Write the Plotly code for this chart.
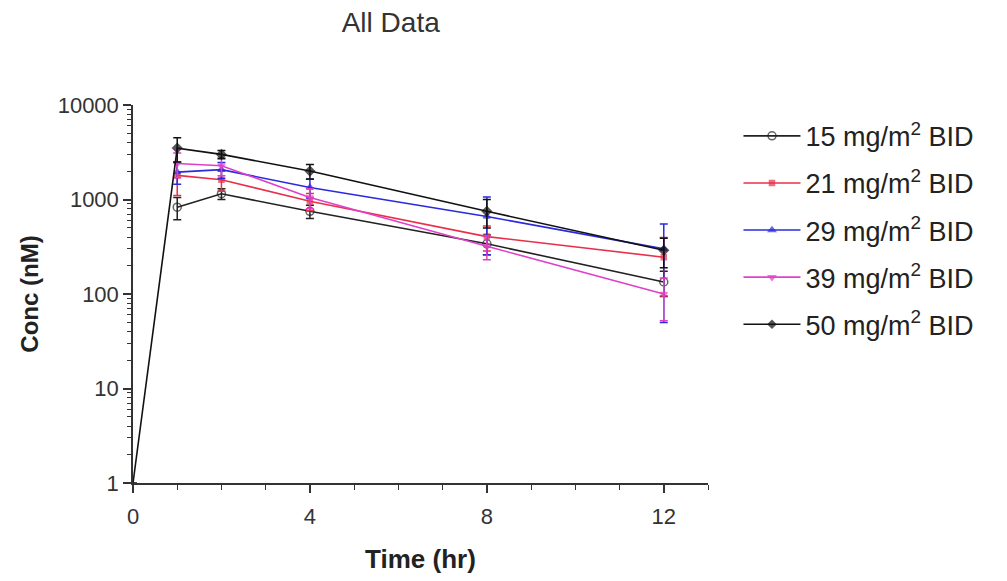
import plotly.graph_objects as go

# Sampling times (hr)
times = [0, 1, 2, 4, 8, 12]

# Dose groups
doses = ["15", "21", "29", "39", "50"]

# Mean concentration (nM) per dose group at each sampling time
conc_15 = [None, 830, 1150, 750, 340, 134]
conc_21 = [None, 1800, 1620, 960, 405, 245]
conc_29 = [None, 1950, 2070, 1340, 660, 300]
conc_39 = [None, 2400, 2280, 1050, 320, 100]
conc_50 = [1, 3500, 3000, 2000, 750, 290]

# Standard deviations (nM)
sd_15 = [0, 220, 150, 120, 80, 40]
sd_21 = [0, 700, 400, 200, 120, 150]
sd_29 = [0, 500, 400, 300, 400, 250]
sd_39 = [0, 700, 500, 250, 90, 48]
sd_50 = [0, 1000, 300, 350, 250, 100]

series = [
    (doses[0], conc_15, sd_15, "#222222", "circle-open", 8),
    (doses[1], conc_21, sd_21, "#e8304a", "square", 5),
    (doses[2], conc_29, sd_29, "#2a2ae0", "triangle-up", 6),
    (doses[3], conc_39, sd_39, "#e040c8", "triangle-down", 6),
    (doses[4], conc_50, sd_50, "#111111", "diamond", 7),
]

fig = go.Figure()
for dose, conc, sd, color, symbol, size in series:
    xs = [t for t, c in zip(times, conc) if c is not None]
    ys = [c for c in conc if c is not None]
    es = [e for e, c in zip(sd, conc) if c is not None]
    # the pre-dose point sits on the axis floor without a marker
    sizes = [0 if t == 0 else size for t in xs]
    fig.add_trace(go.Scatter(
        x=xs, y=ys,
        mode="lines+markers",
        name=f"{dose} mg/m<sup>2</sup> BID",
        legendgroup=dose,
        line=dict(color=color, width=1.6),
        marker=dict(symbol=symbol, size=sizes, color=color,
                    line=dict(color=color, width=1.5)),
        error_y=dict(type="data", array=es, visible=True,
                     color=color, thickness=1.5, width=4),
    ))

font_family = "Liberation Sans, Arial, sans-serif"

fig.update_layout(
    width=1007, height=581,
    paper_bgcolor="white", plot_bgcolor="white",
    margin=dict(l=133, r=299, t=105, b=96),
    font=dict(family=font_family, color="#222222"),
    title=dict(text="All Data", x=0.388, xref="container", xanchor="center",
               y=0.962, yref="container", yanchor="middle",
               font=dict(size=28, color="#333333", family=font_family)),
    legend=dict(x=1.053, y=0.982, xanchor="left", yanchor="top",
                font=dict(size=27, color="#222222"),
                bgcolor="rgba(0,0,0,0)", itemwidth=57,
                tracegroupgap=9),
    showlegend=True,
)

fig.update_xaxes(
    range=[0, 13], tickmode="array", tickvals=[0, 4, 8, 12],
    ticktext=["0", "4", "8", "12"],
    ticks="outside", ticklen=8, tickwidth=1.5, tickcolor="#333333",
    minor=dict(ticks="outside", ticklen=5, tickwidth=1.2, dtick=1,
               tickcolor="#333333", showgrid=False),
    showline=True, linecolor="#333333", linewidth=1.5,
    showgrid=False, zeroline=False,
    ticklabelstandoff=5,
    tickfont=dict(size=22, color="#333333"),
    title=dict(text="<b>Time (hr)</b>", font=dict(size=26, color="#222222"),
               standoff=22),
)

fig.update_yaxes(
    type="log", range=[0, 4],
    tickmode="array", tickvals=[1, 10, 100, 1000, 10000],
    ticktext=["1", "10", "100", "1000", "10000"],
    ticks="outside", ticklen=8, tickwidth=1.5, tickcolor="#333333",
    minor=dict(ticks="outside", ticklen=4, tickwidth=1.2, dtick="D1",
               tickcolor="#333333", showgrid=False),
    showline=True, linecolor="#333333", linewidth=1.5,
    showgrid=False, zeroline=False,
    tickfont=dict(size=22, color="#333333"),
    title=dict(text="<b>Conc (nM)</b>", font=dict(size=24, color="#222222"),
               standoff=12),
)

fig.write_html("out.html")
